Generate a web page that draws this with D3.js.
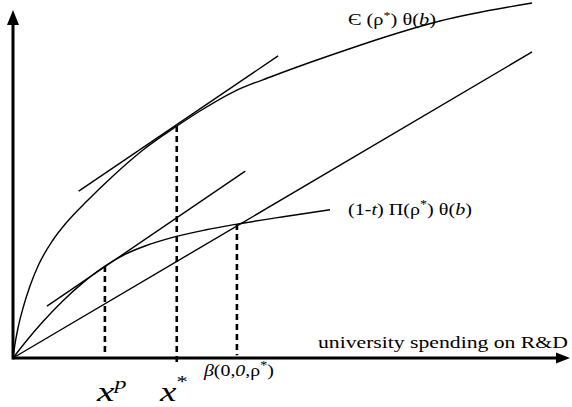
<!DOCTYPE html>
<html>
<head>
  <style>
    body{ margin:0; background:#fff; }
    svg text{ font-family: "Liberation Serif", "Times New Roman", serif; fill:#000; }
    .curve{ fill:none; stroke:#000; stroke-width:1.4px; }
    .axis{ stroke:#000; stroke-width:3px; }
    .drop{ stroke:#000; stroke-width:2.6px; stroke-dasharray:6,4; }
  </style>
  <script src="https://d3js.org/d3.v7.min.js"></script>
</head>
<body>
<div class="vizualisation-container"></div>
<script>
// values in arbitrary units (0-100 on both axes)
const upperX = [0, 0.36, 0.90, 1.80, 3.05, 4.49, 7.18, 9.69, 13.29, 17.95, 23.34, 29.44, 33.57, 39.50, 46.68, 51.53, 59.25, 66.25, 76.66, 93.18];
const upperY = [0, 3.91, 8.38, 13.97, 20.11, 25.70, 32.96, 37.99, 43.85, 50.84, 58.10, 64.80, 69.00, 74.30, 78.77, 81.56, 85.75, 89.39, 94.13, 99.16];

const lowerX = [0, 2.69, 5.39, 8.98, 12.57, 16.52, 20.11, 23.70, 28.19, 34.47, 40.22, 48.83, 56.91];
const lowerY = [0, 5.31, 10.20, 16.01, 21.06, 25.70, 28.94, 31.28, 33.49, 35.75, 37.40, 39.53, 41.40];

const diagonal = [[0, 0], [93.2, 85.5]];
const upperTangent = [[11.8, 46.6], [47.6, 84.4]];
const lowerTangent = [[6.1, 14.5], [41.7, 52.2]];

// dashed drop lines: x, top y, bottom y
const drops = [[16.5, 25.7, 0.8], [29.4, 64.8, -1.4], [40.2, 37.4, 0.8]];

const width = 572;
const height = 407;

const svg = d3.select('.vizualisation-container')
  .append('svg')
  .attr('width', width)
  .attr('height', height);

const x = d3.scaleLinear().domain([0, 100]).range([13, 570]);
const y = d3.scaleLinear().domain([0, 100]).range([358, 0]);

const line = d3.line().x(d => x(d[0])).y(d => y(d[1]));
const smooth = d3.line().x(d => x(d[0])).y(d => y(d[1])).curve(d3.curveMonotoneX);

svg.append('path').attr('class', 'curve')
  .attr('d', smooth(d3.zip(upperX, upperY)));
svg.append('path').attr('class', 'curve')
  .attr('d', smooth(d3.zip(lowerX, lowerY)));

[diagonal, upperTangent, lowerTangent].forEach(seg => {
  svg.append('path').attr('class', 'curve').attr('d', line(seg));
});

svg.selectAll('.drop').data(drops).enter()
  .append('line').attr('class', 'drop')
  .attr('x1', d => x(d[0])).attr('x2', d => x(d[0]))
  .attr('y1', d => y(d[1])).attr('y2', d => y(d[2]));

// axes with arrowheads
svg.append('line').attr('class', 'axis')
  .attr('x1', x(0)).attr('y1', y(0)).attr('x2', x(98)).attr('y2', y(0));
svg.append('line').attr('class', 'axis')
  .attr('x1', x(0)).attr('y1', y(0) + 1.5).attr('x2', x(0)).attr('y2', y(94));
svg.append('path')
  .attr('d', `M${x(100)},${y(0)} L${x(100) - 14},${y(0) - 5.5} L${x(100) - 14},${y(0) + 5.5} Z`);
svg.append('path')
  .attr('d', `M${x(0)},${y(97.2)} L${x(0) - 6},${y(97.2) + 15} L${x(0) + 6},${y(97.2) + 15} Z`);

// stretch a label horizontally so it spans the same width as in the figure
function fit(sel, x0, w){
  const bw = sel.node().getBBox().width;
  const s = w / bw;
  sel.attr('transform', `translate(${x0},0) scale(${s},1) translate(${-x0},0)`);
}

// labels
const t1 = svg.append('text').attr('x', 348).attr('y', 25).style('font-size', '16px');
t1.append('tspan').text('Є (ρ');
t1.append('tspan').attr('dy', -6).style('font-size', '11px').text('*');
t1.append('tspan').attr('dy', 6).text(') θ(');
t1.append('tspan').style('font-style', 'italic').text('b');
t1.append('tspan').text(')');
fit(t1, 348, 88);

const t2 = svg.append('text').attr('x', 348).attr('y', 215).style('font-size', '17px');
t2.append('tspan').text('(1-');
t2.append('tspan').style('font-style', 'italic').text('t');
t2.append('tspan').text(') Π(ρ');
t2.append('tspan').attr('dy', -7).style('font-size', '12px').text('*');
t2.append('tspan').attr('dy', 7).text(') θ(');
t2.append('tspan').style('font-style', 'italic').text('b');
t2.append('tspan').text(')');
fit(t2, 348, 124);

const t0 = svg.append('text').attr('x', 318).attr('y', 348)
  .style('font-size', '17px').text('university spending on R&D');
fit(t0, 318, 250);

const t3 = svg.append('text').attr('x', 204).attr('y', 376).style('font-size', '17px');
t3.append('tspan').style('font-style', 'italic').text('β');
t3.append('tspan').text('(0,');
t3.append('tspan').style('font-style', 'italic').text('0');
t3.append('tspan').text(',ρ');
t3.append('tspan').attr('dy', -7).style('font-size', '12px').text('*');
t3.append('tspan').attr('dy', 7).text(')');
fit(t3, 204, 71);

const t4 = svg.append('text').attr('x', 97).attr('y', 401).style('font-size', '28px').style('font-style', 'italic');
t4.append('tspan').text('x');
t4.append('tspan').attr('dy', -12).style('font-size', '17px').text('p');
fit(t4, 97, 31);

const t5 = svg.append('text').attr('x', 160).attr('y', 401).style('font-size', '28px').style('font-style', 'italic');
t5.append('tspan').text('x');
t5.append('tspan').attr('dy', -14).style('font-size', '17px').style('font-style', 'normal').text('*');
fit(t5, 160, 29);
</script>
</body>
</html>
